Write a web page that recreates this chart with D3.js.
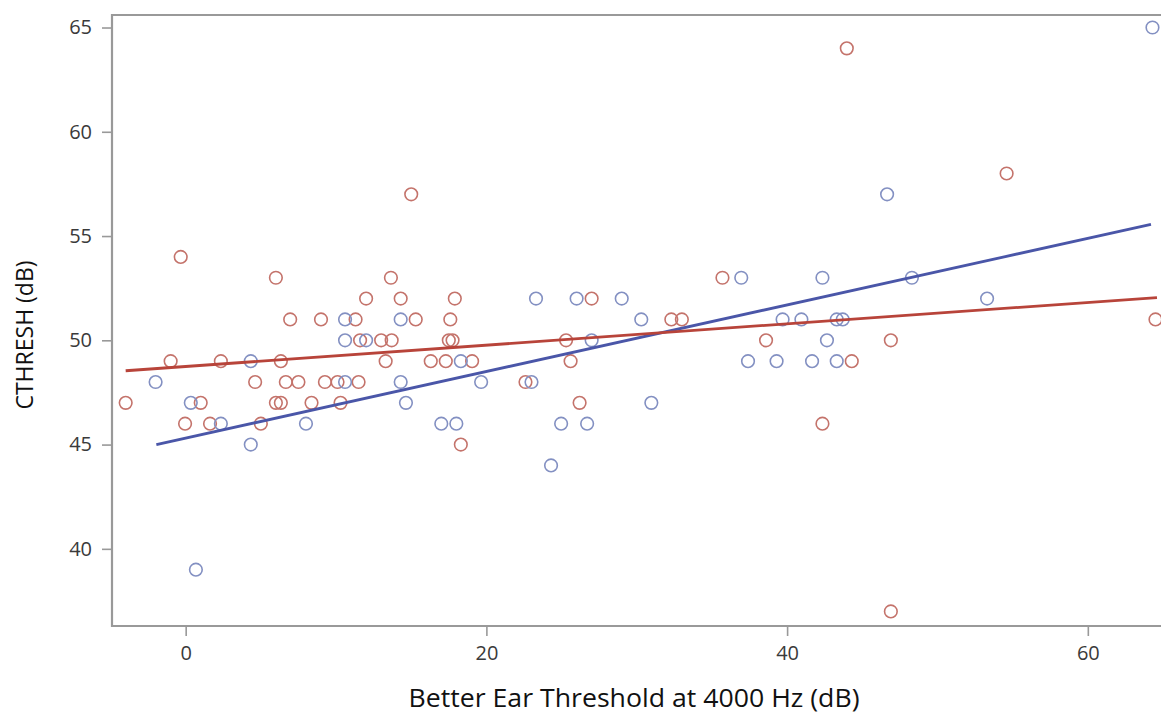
<!DOCTYPE html>
<html>
<head>
<meta charset="utf-8">
<script src="https://cdn.jsdelivr.net/npm/d3@7"></script>
<style>
body { margin: 0; background: #fff; }
svg { display: block; }
.tick text { font-family: "Open Sans", sans-serif; fill: #3a3a3a; }
</style>
</head>
<body>
<svg width="1161" height="713"></svg>
<script>
// blue group
var blueX = [64.3, 46.65, 36.95, 42.35, 48.3, 23.3, 26.0, 29.0, 53.3,
  10.6, 14.3, 30.3, 39.7, 40.95, 43.3, 43.7,
  10.6, 12.0, 27.0, 42.65,
  4.33, 18.3, 37.4, 39.3, 41.66, 43.3,
  -2.0, 10.6, 14.3, 19.65, 23.0,
  0.34, 14.65, 30.97,
  2.34, 8.0, 17.0, 18.0, 24.97, 26.7,
  4.33, 24.3, 0.68];
var blueY = [65, 57, 53, 53, 53, 52, 52, 52, 52,
  51, 51, 51, 51, 51, 51, 51,
  50, 50, 50, 50,
  49, 49, 49, 49, 49, 49,
  48, 48, 48, 48, 48,
  47, 47, 47,
  46, 46, 46, 46, 46, 46,
  45, 44, 39];

// red group
var redX = [43.97, 54.6, 15.0, -0.33, 6.0, 13.65, 35.7,
  12.0, 14.3, 17.9, 27.0,
  6.95, 9.0, 11.3, 15.3, 17.6, 32.3, 33.0, 64.5,
  11.6, 13.0, 13.7, 17.5, 17.75, 25.3, 38.6, 46.9,
  -1.0, 2.34, 6.33, 13.3, 16.3, 17.3, 19.05, 25.6, 44.3,
  4.62, 6.66, 7.5, 9.26, 10.1, 11.5, 22.6,
  -3.99, 1.0, 6.0, 6.33, 8.37, 10.3, 26.2,
  -0.04, 1.62, 5.0, 42.35,
  18.3, 46.9];
var redY = [64, 58, 57, 54, 53, 53, 53,
  52, 52, 52, 52,
  51, 51, 51, 51, 51, 51, 51, 51,
  50, 50, 50, 50, 50, 50, 50, 50,
  49, 49, 49, 49, 49, 49, 49, 49, 49,
  48, 48, 48, 48, 48, 48, 48,
  47, 47, 47, 47, 47, 47, 47,
  46, 46, 46, 46,
  45, 37];

// fit lines, ends
var blueFitX = [-1.95, 64.2], blueFitY = [45.0, 55.56];
var redFitX = [-3.99, 64.6], redFitY = [48.54, 52.05];

var xTicks = [0, 20, 40, 60];
var yTicks = [40, 45, 50, 55, 60, 65];

var svg = d3.select("svg"),
margin = {top: 15, left: 112},
width = 1051,
height = 611;

var x = d3.scaleLinear().domain([-4.9, 65]).range([0, width]),
y = d3.scaleLinear().domain([36.3, 65.6]).range([height, 0]);

var g = svg.append("g")
.attr("transform", "translate(" + margin.left + "," + margin.top + ")");

// frame (right side runs off the picture)
g.append("path")
  .attr("d", "M" + width + ",0H0V" + height + "H" + width)
  .attr("fill", "none")
  .attr("stroke", "#999")
  .attr("stroke-width", 2.2);

var xAxis = g.append("g")
  .attr("transform", "translate(0," + height + ")")
  .call(d3.axisBottom(x).tickValues(xTicks).tickSize(10).tickPadding(10));
var yAxis = g.append("g")
  .call(d3.axisLeft(y).tickValues(yTicks).tickSize(10).tickPadding(10));

[xAxis, yAxis].forEach(function(a) {
  a.select(".domain").remove();
  a.selectAll(".tick line").attr("stroke", "#999").attr("stroke-width", 1.6);
  a.selectAll(".tick text").attr("font-size", 20);
});

g.selectAll(".red")
  .data(redX)
  .enter().append("circle")
    .attr("class", "red")
    .attr("cx", function(d) { return x(d); })
    .attr("cy", function(d, i) { return y(redY[i]); })
    .attr("r", 6.3)
    .attr("fill", "none")
    .attr("stroke", "#c4736b")
    .attr("stroke-width", 1.6);

g.selectAll(".blue")
  .data(blueX)
  .enter().append("circle")
    .attr("class", "blue")
    .attr("cx", function(d) { return x(d); })
    .attr("cy", function(d, i) { return y(blueY[i]); })
    .attr("r", 6.3)
    .attr("fill", "none")
    .attr("stroke", "#8390c2")
    .attr("stroke-width", 1.6);

var line = d3.line()
  .x(function(d) { return x(d[0]); })
  .y(function(d) { return y(d[1]); });

g.append("path")
  .attr("d", line(d3.zip(blueFitX, blueFitY)))
  .attr("fill", "none")
  .attr("stroke", "#4a56a8")
  .attr("stroke-width", 2.8);

g.append("path")
  .attr("d", line(d3.zip(redFitX, redFitY)))
  .attr("fill", "none")
  .attr("stroke", "#b8443a")
  .attr("stroke-width", 2.8);

svg.append("text")
  .attr("x", 634)
  .attr("y", 707)
  .attr("text-anchor", "middle")
  .attr("font-family", "'Open Sans', sans-serif")
  .attr("font-size", 25)
  .attr("fill", "#111")
  .attr("textLength", 451)
  .attr("lengthAdjust", "spacingAndGlyphs")
  .text("Better Ear Threshold at 4000 Hz (dB)");

svg.append("text")
  .attr("transform", "translate(33,335) rotate(-90)")
  .attr("text-anchor", "middle")
  .attr("font-family", "'Open Sans', sans-serif")
  .attr("font-size", 23)
  .attr("fill", "#111")
  .text("CTHRESH (dB)");
</script>
</body>
</html>
